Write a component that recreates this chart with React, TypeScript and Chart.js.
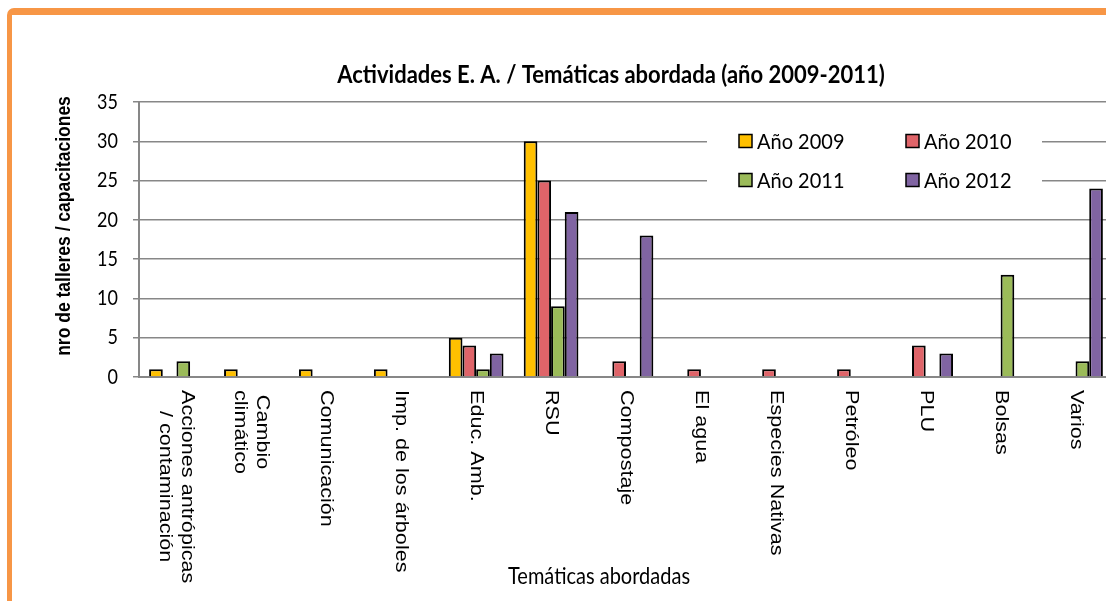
import React, { useEffect, useRef } from 'react';
import { Chart, registerables } from 'chart.js';

Chart.register(...registerables);

const chartTitle = 'Actividades E. A. / Temáticas abordada (año 2009-2011)';
const xAxisTitle = 'Temáticas abordadas';
const yAxisTitle = 'nro de talleres / capacitaciones';

const categories: (string | string[])[] = [
  ['Acciones antrópicas', '/ contaminación'],
  ['Cambio', 'climático'],
  'Comunicación',
  'Imp. de los árboles',
  'Educ. Amb.',
  'RSU',
  'Compostaje',
  'El agua',
  'Especies Nativas',
  'Petróleo',
  'PLU',
  'Bolsas',
  'Varios',
];

const seriesNames = ['Año 2009', 'Año 2010', 'Año 2011', 'Año 2012'];
const values2009 = [1, 1, 1, 1, 5, 30, null, null, null, null, null, null, null];
const values2010 = [null, null, null, null, 4, 25, 2, 1, 1, 1, 4, null, null];
const values2011 = [2, null, null, null, 1, 9, null, null, null, null, null, 13, 2];
const values2012 = [null, null, null, null, 3, 21, 18, null, null, null, 3, null, 24];
const seriesColors = ['#FFC000', '#DF6469', '#9BBB59', '#8064A2'];

const yMin = 0;
const yMax = 35;
const yStep = 5;

function drawStretched(ctx: any, text: string, x: number, y: number, sy: number) {
  ctx.save();
  ctx.translate(x, y);
  ctx.scale(1, sy);
  ctx.fillText(text, 0, 0);
  ctx.restore();
}

const overlayPlugin = {
  id: 'overlay',
  beforeDatasetsDraw(chart: any) {
    const ctx = chart.ctx;
    ctx.save();
    // legend box (inside plot area, white background)
    ctx.fillStyle = '#ffffff';
    ctx.fillRect(707, 124, 335, 72);
    const ds = chart.data.datasets;
    ctx.font = '20px Lato';
    ctx.textBaseline = 'middle';
    ctx.textAlign = 'left';
    ds.forEach((d: any, i: number) => {
      const col = i % 2;
      const row = Math.floor(i / 2);
      const x = 739 + col * 167;
      const y = 141 + row * 39;
      ctx.fillStyle = d.backgroundColor;
      ctx.fillRect(x, y - 6.5, 13, 13);
      ctx.strokeStyle = '#000';
      ctx.lineWidth = 1.5;
      ctx.strokeRect(x, y - 6.5, 13, 13);
      ctx.fillStyle = '#000';
      drawStretched(ctx, d.label, x + 18, y + 1, 1.08);
    });
    ctx.restore();
  },
  afterDraw(chart: any) {
    const ctx = chart.ctx;
    const xs = chart.scales.x;
    const ys = chart.scales.y;
    const area = chart.chartArea;
    ctx.save();
    ctx.fillStyle = '#000';
    ctx.textBaseline = 'middle';

    // y tick labels from the library's scale
    ctx.font = '18px Lato';
    ctx.textAlign = 'right';
    ys.ticks.forEach((t: any) => {
      const py = ys.getPixelForValue(t.value);
      drawStretched(ctx, String(t.value), 118, py, 1.15);
    });

    // main title
    ctx.font = 'bold 22px Lato';
    ctx.textAlign = 'center';
    drawStretched(ctx, chartTitle, 611, 75, 1.15);

    // x axis title
    ctx.font = '20px Lato';
    drawStretched(ctx, xAxisTitle, 599, 577, 1.15);

    // y axis title
    ctx.save();
    ctx.translate(65, 226);
    ctx.rotate(-Math.PI / 2);
    ctx.scale(1, 1.12);
    ctx.font = 'bold 17.5px "Liberation Sans"';
    ctx.textAlign = 'center';
    ctx.textBaseline = 'middle';
    ctx.fillText(yAxisTitle, 0, 0);
    ctx.restore();

    // x tick labels, rotated clockwise (reading top to bottom)
    ctx.font = '18px "Liberation Sans"';
    ctx.textAlign = 'center';
    ctx.textBaseline = 'middle';
    const labels = chart.data.labels;
    for (let i = 0; i < labels.length; i++) {
      const lines: string[] = Array.isArray(labels[i]) ? labels[i] : [labels[i]];
      const cx = xs.getPixelForValue(i);
      let longest = 0;
      lines.forEach((l) => {
        longest = Math.max(longest, ctx.measureText(l).width);
      });
      ctx.save();
      ctx.translate(cx, area.bottom + 13);
      ctx.rotate(Math.PI / 2);
      ctx.scale(1.2, 1);
      const n = lines.length;
      lines.forEach((l, k) => {
        const off = (k - (n - 1) / 2) * 22;
        ctx.fillText(l, longest / 2, off);
      });
      ctx.restore();
    }
    ctx.restore();
  },
};

export default function App() {
  const canvasRef = useRef<HTMLCanvasElement | null>(null);

  useEffect(() => {
    if (!canvasRef.current) return;
    const seriesValues = [values2009, values2010, values2011, values2012];
    const chart = new Chart(canvasRef.current, {
      type: 'bar',
      data: {
        labels: categories as any,
        datasets: seriesNames.map((name, i) => ({
          label: name,
          data: seriesValues[i] as any,
          backgroundColor: seriesColors[i],
          borderColor: '#000000',
          borderWidth: 2,
          categoryPercentage: 0.73,
          barPercentage: 1.0,
        })),
      },
      options: {
        responsive: false,
        animation: false,
        devicePixelRatio: 1,
        layout: { padding: { top: 102, right: 7, bottom: 0, left: 0 } },
        plugins: {
          legend: { display: false },
          title: { display: false },
          tooltip: { enabled: false },
        },
        scales: {
          x: {
            offset: true,
            grid: { display: false },
            border: { display: true, color: '#878787', width: 2 },
            ticks: { display: false },
            afterFit: (scale: any) => {
              scale.height = 224;
            },
          },
          y: {
            min: yMin,
            max: yMax,
            ticks: { display: false, stepSize: yStep },
            grid: { color: '#878787', lineWidth: 1.5, tickLength: 6 },
            border: { display: true, color: '#878787', width: 2 },
            afterFit: (scale: any) => {
              scale.width = 139;
            },
          },
        },
      },
      plugins: [overlayPlugin],
    });
    return () => chart.destroy();
  }, []);

  return (
    <div
      style={{
        position: 'fixed',
        left: 0,
        top: 0,
        width: 1106,
        height: 601,
        overflow: 'hidden',
        background: '#ffffff',
      }}
    >
      <canvas
        ref={canvasRef}
        width={1120}
        height={601}
        style={{ position: 'absolute', left: 0, top: 0 }}
      />
      <div
        style={{
          position: 'absolute',
          left: 7,
          top: 8,
          width: 1400,
          height: 900,
          boxSizing: 'border-box',
          borderTop: '7px solid #F79646',
          borderLeft: '5px solid #F79646',
          borderTopLeftRadius: 7,
          pointerEvents: 'none',
        }}
      />
    </div>
  );
}
